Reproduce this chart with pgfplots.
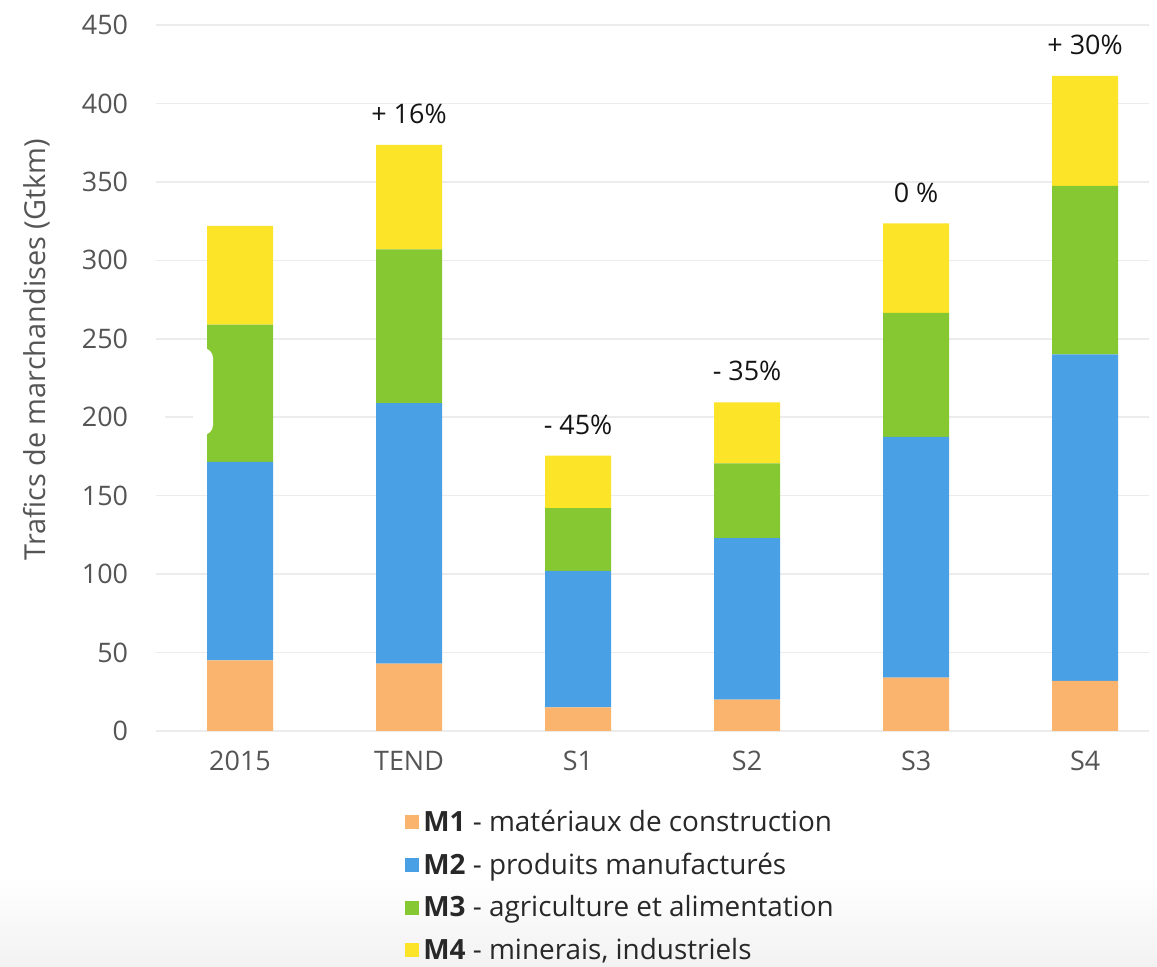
\documentclass[border=0pt]{standalone}
\usepackage{fontspec}
\setmainfont{Open Sans}
\usepackage{pgfplots}
\usepackage{pgfplotstable}
\pgfplotsset{compat=1.18}

\definecolor{mOrange}{RGB}{250,180,110}
\definecolor{mBlue}{RGB}{74,160,228}
\definecolor{mGreen}{RGB}{134,200,50}
\definecolor{mYellow}{RGB}{252,228,40}
\definecolor{tickgrey}{RGB}{85,85,85}
\definecolor{gridgrey}{RGB}{236,236,236}
\definecolor{labelgrey}{RGB}{20,20,20}
\definecolor{legendgrey}{RGB}{40,40,40}
\definecolor{footgrey}{RGB}{242,242,242}

\tikzset{pct/.style={font=\fontsize{13.5}{16}\selectfont, text=labelgrey, anchor=center, yshift=15.5bp}}

% Freight traffic by commodity group (Gtkm), stacked per scenario
\pgfplotstableread{
x  M1  M2     M3     M4
0  45  126.5  87.5   63
1  43  166    98     66.5
2  15  87     40     33.5
3  20  103    47.5   39
4  34  153.5  79     57
5  32  208    107.5  70
}\fretdata

\begin{document}
\begin{tikzpicture}[x=1bp,y=1bp]
\path[use as bounding box, fill=white] (0,0) rectangle (578.5,483.5);
\shade[top color=white, bottom color=footgrey] (0,0) rectangle (578.5,45);
\begin{axis}[
  at={(77.75bp,118bp)}, anchor=south west,
  scale only axis, width=496.9bp, height=353bp,
  ybar stacked, bar width=33bp,
  xmin=-0.5, xmax=5.38, ymin=0, ymax=450,
  xtick={0,...,5},
  xticklabels={2015,TEND,S1,S2,S3,S4},
  ytick={0,50,...,450},
  ymajorgrids,
  major grid style={draw=gridgrey, line width=0.8bp},
  axis line style={draw=none},
  major tick length=0pt,
  /pgf/number format/assume math mode=true,
  ticklabel style={font=\fontsize{13.5}{16}\selectfont, text=tickgrey},
  yticklabel style={inner sep=0pt, anchor=east, xshift=-13.5bp},
  xticklabel style={inner sep=0pt, anchor=north, yshift=-10bp},
  ylabel={Trafics de marchandises (Gtkm)},
  ylabel style={at={(axis description cs:-0.12,0.54)}, anchor=center,
    font=\fontsize{14.5}{17}\selectfont, text=tickgrey},
  clip=false,
  legend style={
    at={(axis description cs:0.245,-0.1)}, anchor=north west,
    draw=none, fill=none,
    font=\fontsize{14}{17}\selectfont, text=legendgrey,
    row sep=5.2bp,
  },
  legend cell align=left,
  legend image code/.code={\fill[#1] (0bp,-3.5bp) rectangle (7bp,3.5bp);},
]
\addplot[fill=mOrange, draw=none] table[x=x, y=M1] {\fretdata};
\addlegendentry{\textbf{M1} - matériaux de construction}
\addplot[fill=mBlue, draw=none] table[x=x, y=M2] {\fretdata};
\addlegendentry{\textbf{M2} - produits manufacturés}
\addplot[fill=mGreen, draw=none] table[x=x, y=M3] {\fretdata};
\addlegendentry{\textbf{M3} - agriculture et alimentation}
\addplot[fill=mYellow, draw=none] table[x=x, y=M4] {\fretdata};
\addlegendentry{\textbf{M4} - minerais, industriels}

% change relative to 2015, written above each total
\node[pct] at (axis cs:1,373.5) {+ 16\%};
\node[pct] at (axis cs:2,175.5) {- 45\%};
\node[pct] at (axis cs:3,209.5) {- 35\%};
\node[pct] at (axis cs:4,323.5) {0 \%};
\node[pct] at (axis cs:5,417.5) {+ 30\%};
\end{axis}
% pause overlay
\fill[white, rounded corners=5bp] (72.5,266) rectangle (82.5,309.5);
\fill[white, rounded corners=5bp] (96.5,266) rectangle (106.5,309.5);
\end{tikzpicture}
\end{document}
